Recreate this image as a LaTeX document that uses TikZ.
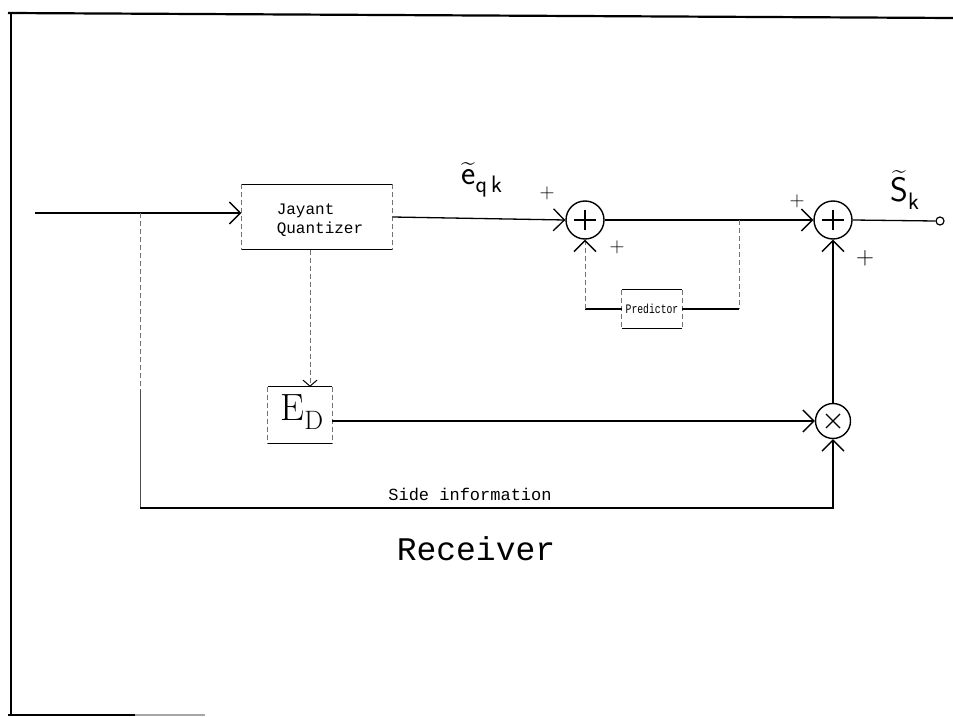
\documentclass[tikz,border=0pt]{standalone}
\usepackage{amsmath}
\usepackage{fontspec}
\newfontfamily\mono{Liberation Mono}
\usetikzlibrary{arrows.meta,calc}
\begin{document}
\begin{tikzpicture}[x=1pt,y=-1pt,
  ln/.style={line width=1.3pt},
  dl/.style={line width=1pt, black!55, dash pattern=on 5pt off 3pt},
  arr/.style={-{Straight Barb[length=11pt,width=22pt,line width=1.3pt,color=black]}},
  arrs/.style={-{Straight Barb[length=6pt,width=14pt,line width=1pt,color=black]}},
  sumc/.style={circle, draw, line width=1.4pt, minimum size=38pt, inner sep=0pt},
  pl/.style={font=\fontsize{20}{20}\selectfont},
  box/.style={inner sep=0pt}]
\useasboundingbox (0,0) rectangle (953,717);
% frame
\draw[line width=2.2pt] (8,13) -- (953,18);
\draw[line width=1.5pt] (11,13) -- (11,715);
\draw[line width=1.5pt] (8,715) -- (135,715);
\draw[line width=1.5pt, black!35] (135,715) -- (205,715);

% blocks
\node[box, minimum width=151pt, minimum height=65pt] (q) at (317,217) {};
\node[align=left, font=\mono\fontsize{16}{19}\selectfont] (qt) at (320,220) {Jayant\\Quantizer};
\draw[ln] (q.north west) -- (q.north east);
\draw[ln] (q.south west) -- (q.south east);
\draw[dl] (q.north west) -- (q.south west);
\draw[dl] (q.north east) -- (q.south east);

\node[box, minimum width=64pt, minimum height=56pt] (ed) at (300,415) {};
\node[font=\fontsize{38}{38}\selectfont] (edt) at (302,412) {$\mathrm{E}_{\mathrm{D}}$};
\draw[ln] (ed.north west) -- (ed.north east);
\draw[ln] (ed.south west) -- (ed.south east);
\draw[dl] (ed.north west) -- (ed.south west);
\draw[dl] (ed.north east) -- (ed.south east);

\node[box, minimum width=60pt, minimum height=38pt] (pr) at (652,309) {};
\node[font=\mono\fontsize{13}{13}\selectfont] (prt) at (652,309) {\scalebox{0.75}[1]{Predictor}};
\draw[ln] (pr.north west) -- (pr.north east);
\draw[ln] (pr.south west) -- (pr.south east);
\draw[dl] (pr.north west) -- (pr.south west);
\draw[dl] (pr.north east) -- (pr.south east);

% summers
\node[sumc] (s1) at (585,220) {};
\node[sumc] (s2) at (833,220) {};
\node[sumc, minimum size=35pt] (m) at (833,421) {};
\draw[line width=1.4pt] ([xshift=-11pt]s1.center) -- ([xshift=11pt]s1.center);
\draw[line width=1.4pt] ([yshift=-10pt]s1.center) -- ([yshift=10pt]s1.center);
\draw[line width=1.4pt] ([xshift=-11pt]s2.center) -- ([xshift=11pt]s2.center);
\draw[line width=1.4pt] ([yshift=-10pt]s2.center) -- ([yshift=10pt]s2.center);
\draw[line width=1.3pt] ([shift={(-7pt,-7pt)}]m.center) -- ([shift={(7pt,7pt)}]m.center);
\draw[line width=1.3pt] ([shift={(-7pt,7pt)}]m.center) -- ([shift={(7pt,-7pt)}]m.center);

\node[circle, draw, line width=1.2pt, minimum size=8pt, inner sep=0pt] (term) at (940,221) {};

% connectors
\coordinate (in) at (35,213);
\draw[ln,arr] (in) -- (in -| q.west);
\draw[ln,arr] (q.east) -- (s1.west);
\draw[ln,arr] (s1.east) -- (s2.west);
\draw[ln] (s2.east) -- (term.west);

\coordinate (tap) at (739,220);
\draw[dl] (tap) -- (tap |- pr.east);
\draw[ln] (tap |- pr.east) -- (pr.east);
\coordinate (fb) at (585,309);
\draw[ln] (pr.west) -- (fb);
\draw[dl,arr] (fb) -- (s1.south);

\draw[dl,arrs] ([xshift=-7pt]q.south) -- ([xshift=10pt]ed.north);
\draw[ln,arr] (m.west -| ed.east) -- (m.west);
\draw[ln,arr] (m.north) -- (s2.south);

\coordinate (br) at (140,213);
\coordinate (bm) at (140,390);
\coordinate (sb) at (140,508);
\draw[dl] (br) -- (bm);
\draw[line width=1pt, black!70] (bm) -- (sb);
\draw[ln,arr] (sb) -- (sb -| m.south) -- (m.south);
\node[font=\mono\fontsize{17}{17}\selectfont, anchor=south] (si) at (470,504) {Side information};

% labels
\node[font=\fontsize{34}{34}\selectfont] (eq) at (482,180) {$\widetilde{\mathsf{e}}_{\mathsf{q\,k}}$};
\node[font=\fontsize{34}{34}\selectfont] (sk) at (905,190) {$\widetilde{\mathsf{S}}_{\mathsf{k}}$};
\node[pl] (p1) at (547,193) {$+$};
\node[pl] (p2) at (617,247) {$+$};
\node[pl] (p3) at (797,201) {$+$};
\node[font=\fontsize{26}{26}\selectfont] (p4) at (865,258) {$+$};

\node[font=\mono\fontsize{33}{33}\selectfont] (rx) at (476,549) {Receiver};
\end{tikzpicture}
\end{document}
